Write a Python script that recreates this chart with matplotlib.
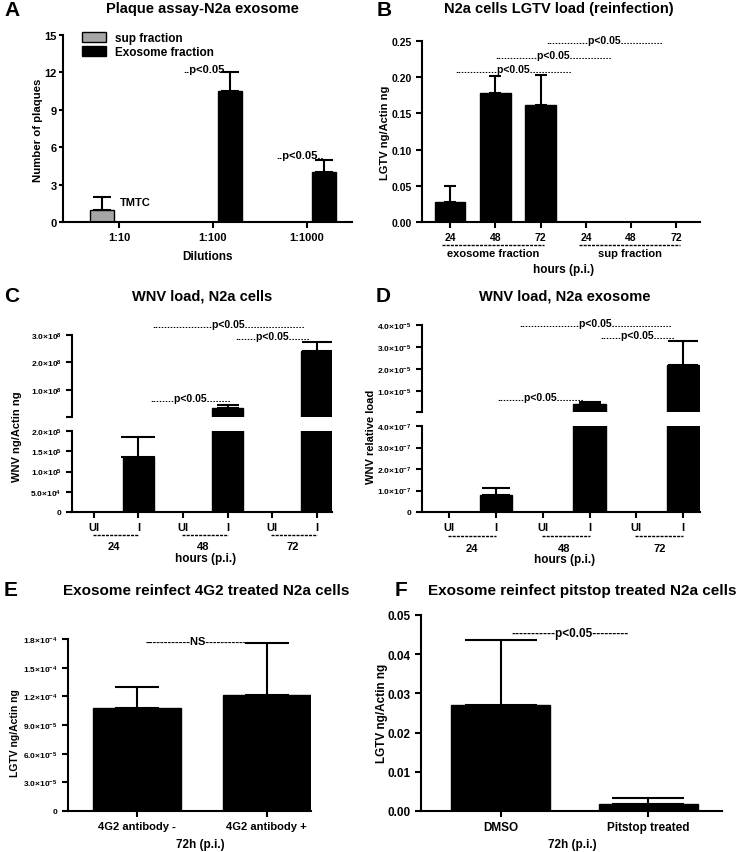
import numpy as np
import matplotlib
matplotlib.use("Agg")
import matplotlib.pyplot as plt
from matplotlib.ticker import FuncFormatter

plt.rcParams['font.family'] = ['Liberation Sans', 'DejaVu Sans']
plt.rcParams['font.weight'] = 'bold'
plt.rcParams['axes.linewidth'] = 1.5
plt.rcParams['mathtext.fontset'] = 'custom'
plt.rcParams['mathtext.rm'] = 'Liberation Sans:bold'
plt.rcParams['mathtext.it'] = 'Liberation Sans:bold'
plt.rcParams['mathtext.bf'] = 'Liberation Sans:bold'

# ---- data ----
# A: plaque assay
a_dilutions = ['1:10', '1:100', '1:1000']
a_sup_mean = [1.0, 0.0, 0.0]
a_sup_err = [1.0, 0.0, 0.0]
a_exo_mean = [0.0, 10.5, 4.0]
a_exo_err = [0.0, 1.5, 1.0]

# B: LGTV load reinfection
b_labels = ['24', '48', '72', '24', '48', '72']
b_mean = [0.028, 0.178, 0.162, 0.0, 0.0, 0.0]
b_err = [0.022, 0.023, 0.041, 0.0, 0.0, 0.0]

# C: WNV load N2a cells
c_labels = ['UI', 'I', 'UI', 'I', 'UI', 'I']
c_mean = [0.0, 1.35e5, 0.0, 3.3e7, 0.0, 2.4e8]
c_err = [0.0, 0.5e5, 0.0, 1.0e7, 0.0, 3.6e7]

# D: WNV load N2a exosome
d_labels = ['UI', 'I', 'UI', 'I', 'UI', 'I']
d_mean = [2e-9, 0.8e-7, 2e-9, 0.42e-5, 2e-9, 2.2e-5]
d_err = [0.0, 0.32e-7, 0.0, 0.08e-5, 0.0, 1.05e-5]

hours = ['24', '48', '72']

# E: 4G2 treated
e_labels = ['4G2 antibody -', '4G2 antibody +']
e_mean = [1.08e-4, 1.21e-4]
e_err = [0.22e-4, 0.55e-4]

# F: pitstop treated
f_labels = ['DMSO', 'Pitstop treated']
f_mean = [0.027, 0.0018]
f_err = [0.0166, 0.0016]

W, H = 744, 853
fig = plt.figure(figsize=(W / 100, H / 100), dpi=100)
narrow = ['Liberation Sans Narrow', 'Liberation Sans']


def rect(l, t, r, b):
    return [l / W, 1 - b / H, (r - l) / W, (b - t) / H]


def ftext(x, y, s, **kw):
    kw.setdefault('ha', 'center')
    kw.setdefault('va', 'center')
    fig.text(x / W, 1 - y / H, s, **kw)


def sci(v, pos=None):
    if v == 0:
        return '0'
    e = int(np.floor(np.log10(abs(v)) + 1e-9))
    m = v / 10 ** e
    return f'{m:.1f}×10$^{{{e}}}$'


def style(ax):
    for s in ['top', 'right']:
        ax.spines[s].set_visible(False)
    ax.tick_params(direction='out', width=1.5, length=4)


def upper_err(ax, x, mean, err, cap, **kw):
    x = np.asarray(x, float)
    mean = np.asarray(mean, float)
    err = np.asarray(err, float)
    m = err > 0
    if not m.any():
        return
    ax.errorbar(x[m], mean[m], yerr=[np.zeros(m.sum()), err[m]], fmt='none',
                ecolor='black', elinewidth=1.5, capsize=cap, capthick=1.5,
                zorder=1, **kw)


# ---------------- A ----------------
ax = fig.add_axes(rect(63, 36, 352, 223))
style(ax)
g = np.arange(len(a_dilutions))
off, bw = 0.18, 0.26
ax.bar(g - off, a_sup_mean, bw, color='#a6a6a6', edgecolor='black', lw=1,
       zorder=2, label='sup fraction')
ax.bar(g + off, a_exo_mean, bw, color='black', edgecolor='black', lw=1,
       zorder=2, label='Exosome fraction')
upper_err(ax, g - off, a_sup_mean, a_sup_err, 6.5)
upper_err(ax, g + off, a_exo_mean, a_exo_err, 6.5)
ax.set_xlim(-0.596, 2.48)
ax.set_ylim(0, 15)
ax.set_yticks([0, 3, 6, 9, 12, 15])
ax.set_xticks(g)
ax.set_xticklabels(a_dilutions)
ax.tick_params(labelsize=8)
ax.tick_params(axis='y', pad=1.5, length=3)
ax.text(0.01, 1.6, 'TMTC', fontsize=8, ha='left', va='center')
ax.text(0.94, 12.3, '..p<0.05..', fontsize=8, ha='center', va='center')
ax.text(1.93, 5.4, '..p<0.05..', fontsize=8, ha='center', va='center')
ax.legend(loc='upper left', bbox_to_anchor=(0.05, 1.04), frameon=False,
          fontsize=8.5, handlelength=2.0, handleheight=0.9, labelspacing=0.15,
          handletextpad=0.8, borderaxespad=0)
ftext(202, 9, 'Plaque assay-N2a exosome', fontsize=10.5)
ftext(4, 11, 'A', fontsize=15, ha='left')
ftext(38, 130, 'Number of plaques', fontsize=8.2, rotation=90)
ftext(208, 257, 'Dilutions', fontsize=8.5)

# ---------------- B ----------------
ax = fig.add_axes(rect(422, 42, 700, 223))
style(ax)
x = np.arange(len(b_labels))
ax.bar(x, b_mean, 0.68, color='black', edgecolor='black', zorder=2)
upper_err(ax, x, b_mean, b_err, 4.3)
ax.set_xlim(-0.62, 5.52)
ax.set_ylim(0, 0.25)
ax.set_yticks([0, 0.05, 0.10, 0.15, 0.20, 0.25])
ax.yaxis.set_major_formatter(FuncFormatter(lambda v, p: f'{v:.2f}'))
ax.set_xticks(x)
ax.set_xticklabels(b_labels)
ax.tick_params(labelsize=7.5)
dots = '.' * 14
for cx, cy in [(1.41, 0.212), (2.28, 0.230), (3.41, 0.251)]:
    ax.text(cx, cy, dots + 'p<0.05' + dots, fontsize=7.5, ha='center',
            va='center', clip_on=False)
tr = ax.get_xaxis_transform()
for (x0, x1), lab in [((-0.18, 2.07), 'exosome fraction'),
                      ((2.85, 5.08), 'sup fraction')]:
    ax.plot([x0, x1], [-0.127, -0.127], transform=tr, color='black', lw=1,
            ls=(0, (2.2, 0.8)), clip_on=False)
    ax.text((x0 + x1) / 2, -0.17, lab, transform=tr, fontsize=8, ha='center',
            va='center')
ftext(559, 9, 'N2a cells LGTV load (reinfection)', fontsize=10.5)
ftext(377, 11, 'B', fontsize=15, ha='left')
ftext(385, 133, 'LGTV ng/Actin ng', fontsize=8, rotation=90)
ftext(564, 270, 'hours (p.i.)', fontsize=8.5)


# ---------------- C / D broken axes ----------------
def broken(l, r, t_up, b_up, t_lo, b_lo, labels, mean, err, up_lim, lo_lim,
           up_ticks, lo_ticks, xlim, caps, ann, grp_x, grp_lab):
    x = np.arange(len(labels))
    mean = np.asarray(mean, float)
    err = np.asarray(err, float)
    axu = fig.add_axes(rect(l, t_up, r, b_up))
    axl = fig.add_axes(rect(l, t_lo, r, b_lo))
    for a in (axu, axl):
        style(a)
        a.set_xlim(*xlim)
        a.yaxis.set_major_formatter(FuncFormatter(sci))
        a.tick_params(axis='y', labelsize=6)
    # lower segment: every bar
    axl.bar(x, mean, 0.7, color='black', edgecolor='black', zorder=2)
    for xi, mi, ei, ci in zip(x, mean, err, caps):
        upper_err(axl, [xi], [mi], [ei], ci)
    # upper segment: only the bars that reach past the break
    big = mean > up_lim[0]
    axu.bar(x[big], mean[big], 0.7, color='black', edgecolor='black',
            zorder=2)
    for xi, mi, ei, ci in zip(x[big], mean[big], err[big],
                              np.asarray(caps)[big]):
        upper_err(axu, [xi], [mi], [ei], ci)
    axu.spines['bottom'].set_visible(False)
    axu.set_xticks([])
    axu.set_ylim(*up_lim)
    axu.set_yticks([up_lim[0]] + up_ticks)
    axu.set_yticklabels([''] + [sci(v) for v in up_ticks])
    axl.set_ylim(*lo_lim)
    axl.set_yticks(lo_ticks)
    axl.set_xticks(x)
    axl.set_xticklabels(labels)
    axl.tick_params(axis='x', labelsize=8)
    for cx, cy, s in ann:
        axu.text(cx, cy, s, fontsize=7.5, ha='center', va='center',
                 clip_on=False)
    tr = axl.get_xaxis_transform()
    for (x0, x1), gx, lab in zip([(-0.02, 1.0), (1.98, 3.0), (3.98, 5.0)],
                                 grp_x, grp_lab):
        axl.plot([x0, x1], [-0.284, -0.284], transform=tr, color='black',
                 lw=1, ls=(0, (2.2, 0.8)), clip_on=False)
        axl.text(gx, -0.42, lab, transform=tr, fontsize=8, ha='center',
                 va='center')
    return axu, axl


broken(72, 332, 336, 418, 432, 513, c_labels, c_mean, c_err,
       (2e5, 3e8), (0, 2e5), [1e8, 2e8, 3e8],
       [0, 5e4, 1e5, 1.5e5, 2e5], (-0.49, 5.34), [12, 12, 8, 8, 11, 11],
       [(3.03, 3.40e8, '.' * 20 + 'p<0.05' + '.' * 20),
        (4.0, 2.96e8, '.' * 7 + 'p<0.05' + '.' * 7),
        (2.16, 0.69e8, '.' * 8 + 'p<0.05' + '.' * 8)],
       [0.45, 2.45, 4.45], hours)
ftext(202, 297, 'WNV load, N2a cells', fontsize=10.5, family=narrow)
ftext(4, 297, 'C', fontsize=15, ha='left')
ftext(17, 437, 'WNV ng/Actin ng', fontsize=8, rotation=90)
ftext(206, 559, 'hours (p.i.)', fontsize=8.5)

broken(422, 700, 326, 413, 427, 513, d_labels, d_mean, d_err,
       (4e-7, 4e-5), (0, 4e-7), [1e-5, 2e-5, 3e-5, 4e-5],
       [0, 1e-7, 2e-7, 3e-7, 4e-7], (-0.58, 5.36), [10, 10, 8, 8, 11, 11],
       [(3.12, 4.09e-5, '.' * 20 + 'p<0.05' + '.' * 20),
        (4.03, 3.54e-5, '.' * 7 + 'p<0.05' + '.' * 7),
        (1.96, 0.74e-5, '.' * 9 + 'p<0.05' + '.' * 9)],
       [0.49, 2.46, 4.49], hours)
ftext(565, 297, 'WNV load, N2a exosome', fontsize=10.5, family=narrow)
ftext(376, 297, 'D', fontsize=15, ha='left')
ftext(371, 437, 'WNV relative load', fontsize=8, rotation=90)
ftext(565, 560, 'hours (p.i.)', fontsize=8.5)

# ---------------- E ----------------
ax = fig.add_axes(rect(68, 640, 311, 812))
style(ax)
x = np.arange(len(e_labels))
ax.bar(x, e_mean, 0.68, color='black', edgecolor='black', zorder=2)
upper_err(ax, x, e_mean, e_err, 16)
ax.set_xlim(-0.53, 1.34)
ax.set_ylim(0, 1.8e-4)
ax.set_yticks([0, 3e-5, 6e-5, 9e-5, 1.2e-4, 1.5e-4, 1.8e-4])
ax.yaxis.set_major_formatter(FuncFormatter(sci))
ax.set_xticks(x)
ax.set_xticklabels(e_labels)
ax.tick_params(axis='y', labelsize=6)
ax.tick_params(axis='x', labelsize=8)
ax.text(0.47, 1.78e-4, '-' * 12 + 'NS' + '-' * 12, fontsize=8, ha='center',
        va='center', clip_on=False)
ftext(206, 591, 'Exosome reinfect 4G2 treated N2a cells', fontsize=11,
      family=narrow)
ftext(4, 591, 'E', fontsize=15, ha='left')
ftext(15, 733, 'LGTV ng/Actin ng', fontsize=7.5, rotation=90)
ftext(200, 845, '72h (p.i.)', fontsize=8.5)

# ---------------- F ----------------
ax = fig.add_axes(rect(421, 616, 722, 812))
style(ax)
x = np.arange(len(f_labels))
ax.bar(x, f_mean, 0.67, color='black', edgecolor='black', zorder=2)
upper_err(ax, x, f_mean, f_err, 26)
ax.set_xlim(-0.54, 1.50)
ax.set_ylim(0, 0.05)
ax.set_yticks([0, 0.01, 0.02, 0.03, 0.04, 0.05])
ax.yaxis.set_major_formatter(FuncFormatter(lambda v, p: f'{v:.2f}'))
ax.set_xticks(x)
ax.set_xticklabels(f_labels)
ax.tick_params(labelsize=8.5)
ax.text(0.47, 0.0454, '-' * 11 + 'p<0.05' + '-' * 9, fontsize=8.5,
        ha='center', va='center', clip_on=False)
ftext(582, 591, 'Exosome reinfect pitstop treated N2a cells', fontsize=11,
      family=narrow)
ftext(395, 591, 'F', fontsize=15, ha='left')
ftext(382, 713, 'LGTV ng/Actin ng', fontsize=8.5, rotation=90)
ftext(572, 845, '72h (p.i.)', fontsize=8.5)

fig.savefig('out.png', dpi=100)
